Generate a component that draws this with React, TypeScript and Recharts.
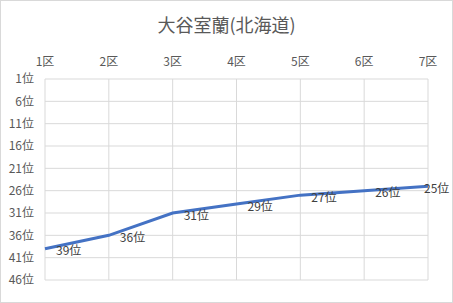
import { LineChart, Line, XAxis, YAxis, CartesianGrid, LabelList } from 'recharts'

const sections = ['1区', '2区', '3区', '4区', '5区', '6区', '7区']
const ranks = [39, 36, 31, 29, 27, 26, 25]
const rankTicks = [1, 6, 11, 16, 21, 26, 31, 36, 41, 46]

const chartData = sections.map((name, i) => ({ name, rank: ranks[i] }))

const textColor = '#595959'
const gridColor = '#d9d9d9'
const font = '"Noto Sans CJK JP", "Noto Sans", sans-serif'

const RankLabel = (props: any) => {
  const { x, y, value } = props
  const tx = Math.min(x + 11, 453 - 29)
  return (
    <text x={tx} y={y + 1} dominantBaseline="central" textAnchor="start" fontSize={12} fill="#404040" fontFamily={font}>
      {`${value}位`}
    </text>
  )
}

export default function App() {
  return (
    <div style={{ position: 'absolute', left: 0, top: 0, width: 453, height: 303, background: '#fff', fontFamily: font }}>
      <div style={{ position: 'absolute', left: 0, top: 0, width: 453, height: 303, boxSizing: 'border-box', border: '1px solid #d9d9d9', pointerEvents: 'none' }} />
      <div style={{ position: 'absolute', left: 0, top: 11, width: 453, textAlign: 'center', fontSize: 18, color: textColor }}>
        大谷室蘭(北海道)
      </div>
      <LineChart width={453} height={303} data={chartData} margin={{ top: 49, right: 25, bottom: 23, left: 0 }}>
        <CartesianGrid stroke={gridColor} strokeWidth={1} />
        <XAxis
          dataKey="name"
          orientation="top"
          height={30}
          axisLine={false}
          tickLine={false}
          tickSize={0}
          tickMargin={13}
          interval={0}
          tick={{ fill: textColor, fontSize: 12, fontFamily: font }}
        />
        {/* bottom stubs: gridlines poke out a few px under the plot */}
        <XAxis
          xAxisId="stub"
          dataKey="name"
          orientation="bottom"
          height={0}
          axisLine={false}
          tickLine={{ stroke: gridColor }}
          tickSize={5}
          interval={0}
          tick={{ fill: 'transparent', fontSize: 1 }}
        />
        <YAxis
          type="number"
          reversed
          domain={[1, 46]}
          ticks={rankTicks}
          interval={0}
          width={45}
          axisLine={false}
          tickLine={false}
          tickSize={0}
          tickMargin={11}
          tickFormatter={(v: number) => `${v}位`}
          tick={{ fill: textColor, fontSize: 12, fontFamily: font }}
        />
        <Line
          type="linear"
          dataKey="rank"
          stroke="#4472C4"
          strokeWidth={3}
          dot={false}
          isAnimationActive={false}
        >
          <LabelList dataKey="rank" content={RankLabel} />
        </Line>
      </LineChart>
    </div>
  )
}
